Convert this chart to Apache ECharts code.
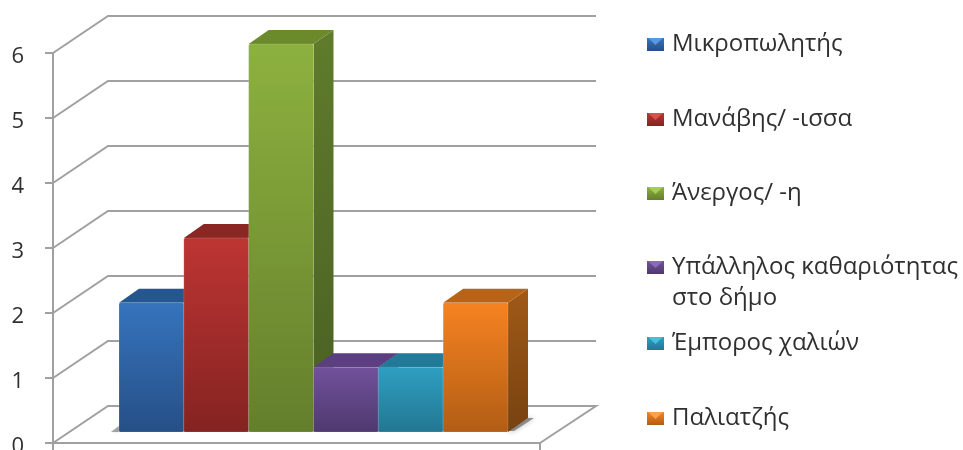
<!DOCTYPE html>
<html>
<head>
<meta charset="utf-8">
<style>html,body{margin:0;padding:0;background:#fff}#c{width:963px;height:450px}</style>
<script src="https://cdn.jsdelivr.net/npm/echarts@6/dist/echarts.min.js"></script>
</head>
<body>
<div id="c"></div>
<script>
// Occupations and how many people reported each one
const categories = ['Μικροπωλητής', 'Μανάβης/ -ισσα', 'Άνεργος/ -η', 'Υπάλληλος καθαριότητας', 'Έμπορος χαλιών', 'Παλιατζής'];
const counts = [2, 3, 6, 1, 1, 2];
const valueTicks = [0, 1, 2, 3, 4, 5, 6];
const legendCentres = [44, 119, 193, 267, 343, 418];
const legendSecondLine = 'στο δήμο';

// Face colours per bar: front top, front bottom, side top, side bottom, roof
const frontTop = ['#3674bd', '#bd3533', '#8db13f', '#71529b', '#2f9fc2', '#f68321'];
const frontBottom = ['#264f86', '#842321', '#647f2c', '#4f396f', '#237791', '#b25d15'];
const sideTop = ['#24558f', '#8a2725', '#5f7c2c', '#523a76', '#1f7089', '#a05a17'];
const sideBottom = ['#1c3f6b', '#661b1a', '#495f22', '#3c2a56', '#175465', '#774210'];
const roof = ['#24568f', '#8a2725', '#6a8a2c', '#5b3f80', '#217a97', '#b5641a'];
const bevel = ['#5b97dc', '#d9504e', '#a6cc58', '#8d6ab8', '#4fbcdc', '#f9a24d'];

const GRID_LINE = '#a0a0a0';
const DEPTH_X = 55, DEPTH_Y = -37;   // offset of the back wall from the front plane
const BAR_DX = 20, BAR_DY = -14;     // depth of one bar

function vGrad(a, b) {
  return new echarts.graphic.LinearGradient(0, 0, 0, 1, [{offset: 0, color: a}, {offset: 1, color: b}]);
}

// Back wall rules and floor outline, taken from the value axis of the front plane
function renderWall(params, api) {
  const cs = params.coordSys;
  const y = api.coord([0, api.value(1)])[1];
  const pts = [[cs.x, y], [cs.x + DEPTH_X, y + DEPTH_Y], [cs.x + cs.width + DEPTH_X + 1, y + DEPTH_Y]];
  if (api.value(1) === 0) pts.push([cs.x + cs.width, y]);
  return {
    type: 'polyline',
    shape: {points: pts},
    style: {stroke: GRID_LINE, lineWidth: 2, fill: null},
    silent: true
  };
}

// One box: side, roof and front faces
function renderBar(params, api) {
  const i = params.seriesIndex - 1;
  const top = api.coord([api.value(0), api.value(1)]);
  const base = api.coord([api.value(0), 0]);
  const w = api.size([1, 0])[0];
  const l = top[0] - w / 2, r = top[0] + w / 2, t = top[1], b = base[1];
  return {
    type: 'group',
    children: [
      {type: 'polygon',
       shape: {points: [[r, t], [r + BAR_DX, t + BAR_DY], [r + BAR_DX, b + BAR_DY], [r, b]]},
       style: {fill: vGrad(sideTop[i], sideBottom[i])}},
      {type: 'polygon',
       shape: {points: [[l, t], [l + BAR_DX, t + BAR_DY], [r + BAR_DX, t + BAR_DY], [r, t]]},
       style: {fill: roof[i]}},
      {type: 'rect',
       shape: {x: l, y: t, width: w, height: b - t, r: 1.5},
       style: {fill: vGrad(frontTop[i], frontBottom[i]), stroke: 'rgba(255,255,255,0.14)', lineWidth: 1}}
    ]
  };
}

// Soft contact shadow on the floor, next to the outer boxes
function renderFloorShadow(params, api) {
  const cs = params.coordSys;
  const b = cs.y + cs.height;
  const R = cs.x + cs.width;
  return {
    type: 'group',
    silent: true,
    children: [
      {type: 'polygon',
       shape: {points: [[R - 2, b - 1], [R + BAR_DX, b + BAR_DY], [R + 26, b + BAR_DY], [R + 6, b - 1]]},
       style: {fill: 'rgba(70,70,70,0.55)', shadowColor: 'rgba(70,70,70,0.7)', shadowBlur: 5}},
      {type: 'polygon',
       shape: {points: [[cs.x - 8, b], [cs.x, b - 6], [cs.x, b]]},
       style: {fill: 'rgba(100,100,100,0.5)', shadowColor: 'rgba(100,100,100,0.5)', shadowBlur: 2}}
    ]
  };
}

const barSeries = categories.map((name, i) => ({
  name: name,
  type: 'custom',
  xAxisIndex: 1,
  yAxisIndex: 1,
  clip: false,
  itemStyle: {color: frontTop[i]},
  encode: {x: 0, y: 1},
  data: [[name, counts[i]]],
  renderItem: renderBar,
  z: 3
}));

const legends = categories.map((name, i) => ({
  show: true,
  orient: 'vertical',
  left: 647,
  top: legendCentres[i] - 13.5,
  padding: 0,
  itemWidth: 17,
  itemHeight: 13,
  itemGap: 0,
  selectedMode: false,
  textStyle: {fontFamily: 'Open Sans', fontSize: 24, lineHeight: 28, color: '#303030', padding: [0, 0, 0, 3]},
  data: [{name: name, icon: 'rect', itemStyle: {color: vGrad(frontTop[i], frontBottom[i])}}]
}));

// Lighter upper facet on each legend key
const legendFacets = categories.map((name, i) => ({
  type: 'polygon',
  silent: true,
  z: 20,
  shape: {points: [[648, legendCentres[i] - 6], [663, legendCentres[i] - 6], [655.5, legendCentres[i] + 1]]},
  style: {fill: bevel[i]}
}));

const chart = echarts.init(document.getElementById('c'), null, {renderer: 'canvas'});
chart.setOption({
  animation: false,
  backgroundColor: '#fff',
  tooltip: {show: false},
  grid: [
    {left: 53, top: 53, width: 487, height: 390, outerBoundsMode: 'none'},
    {left: 119, top: 44, width: 389, height: 388, outerBoundsMode: 'none'}
  ],
  xAxis: [
    {gridIndex: 0, type: 'category', data: [''],
     axisLine: {lineStyle: {color: GRID_LINE, width: 2}},
     axisTick: {show: true, length: 7, lineStyle: {color: GRID_LINE, width: 2}},
     axisLabel: {show: false}},
    {gridIndex: 1, type: 'category', data: categories, show: false}
  ],
  yAxis: [
    {gridIndex: 0, type: 'value', min: valueTicks[0], max: valueTicks[valueTicks.length - 1], interval: 1,
     axisLine: {show: true, lineStyle: {color: GRID_LINE, width: 2}},
     axisTick: {show: true, length: 8, lineStyle: {color: GRID_LINE, width: 2}},
     axisLabel: {margin: 29, fontFamily: 'Open Sans', fontSize: 22, color: '#303030', verticalAlign: 'top', lineHeight: 8},
     splitLine: {show: false}},
    {gridIndex: 1, type: 'value', min: valueTicks[0], max: valueTicks[valueTicks.length - 1], show: false, splitLine: {show: false}}
  ],
  legend: legends,
  graphic: legendFacets.concat([
    {type: 'text', left: 672, top: 286, silent: true,
     style: {text: legendSecondLine, font: '24px "Open Sans"', fill: '#303030'}}
  ]),
  series: [
    {type: 'custom', xAxisIndex: 0, yAxisIndex: 0, clip: false, z: 1,
     encode: {x: 0, y: 1},
     data: valueTicks.map(v => ['', v]),
     renderItem: renderWall}
  ].concat(barSeries).concat([
    {type: 'custom', xAxisIndex: 1, yAxisIndex: 1, clip: false, z: 2,
     encode: {x: 0, y: 1},
     data: [[categories[0], 0]],
     renderItem: renderFloorShadow}
  ])
});
</script>
</body>
</html>
